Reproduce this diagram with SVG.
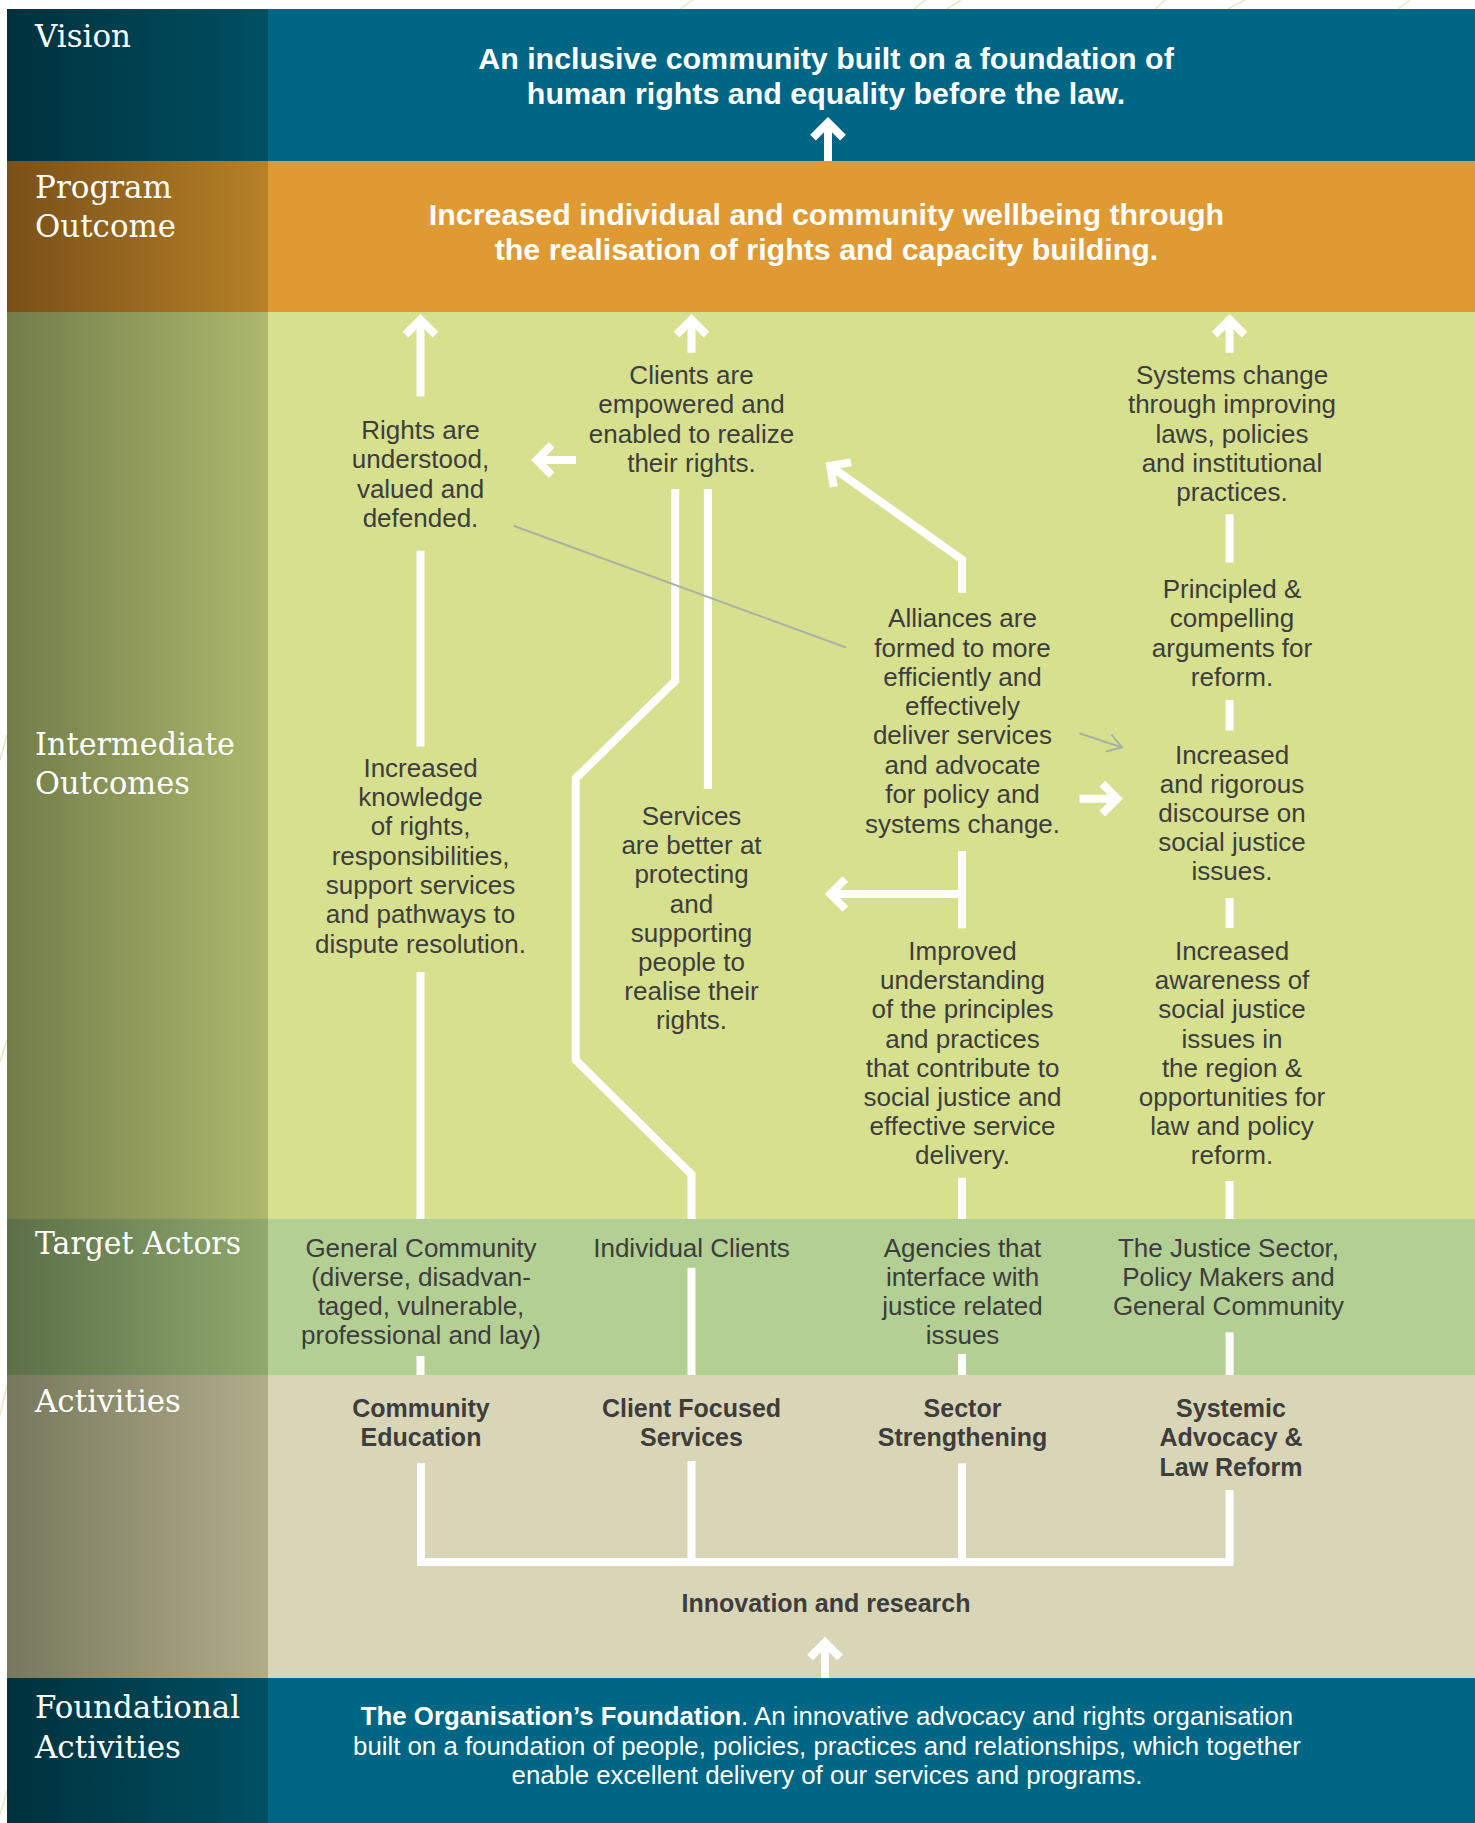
<svg xmlns="http://www.w3.org/2000/svg" width="1475" height="1823" viewBox="0 0 1475 1823">
<style>
.lbl{font-family:"DejaVu Serif","Liberation Serif",serif;font-size:31px;fill:#fff}
.hd{font-family:"Liberation Sans",Arial,sans-serif;font-weight:bold;font-size:30.4px;fill:#fff;text-anchor:middle}
.tx{font-family:"Liberation Sans",Arial,sans-serif;font-size:26px;fill:#3d3d3d;text-anchor:middle}
.bd{font-family:"Liberation Sans",Arial,sans-serif;font-weight:bold;font-size:25px;fill:#3d3d3d;text-anchor:middle}
.ft{font-family:"Liberation Sans",Arial,sans-serif;font-size:25.8px;fill:#fff;text-anchor:middle}
.ln{stroke:#fff;stroke-width:8;fill:none;stroke-linejoin:miter;stroke-miterlimit:10}
.ar{marker-end:url(#ah)}
.gl{stroke:#a9b2a2;stroke-width:2;fill:none}
.deco{stroke:#e8e8c4;stroke-width:1.5;fill:none}
</style>
<defs>
<linearGradient id="gV" x1="0" x2="1" y1="0" y2="0"><stop offset="0" stop-color="#00313d"/><stop offset="1" stop-color="#005063"/></linearGradient>
<linearGradient id="gP" x1="0" x2="1" y1="0" y2="0"><stop offset="0" stop-color="#7a5019"/><stop offset="1" stop-color="#b68127"/></linearGradient>
<linearGradient id="gI" x1="0" x2="1" y1="0" y2="0"><stop offset="0" stop-color="#727d4a"/><stop offset="1" stop-color="#adb86d"/></linearGradient>
<linearGradient id="gT" x1="0" x2="1" y1="0" y2="0"><stop offset="0" stop-color="#5c6f48"/><stop offset="1" stop-color="#90a96d"/></linearGradient>
<linearGradient id="gA" x1="0" x2="1" y1="0" y2="0"><stop offset="0" stop-color="#77785c"/><stop offset="1" stop-color="#b1ad8b"/></linearGradient>
<marker id="ah" markerUnits="userSpaceOnUse" orient="auto" markerWidth="60" markerHeight="60" viewBox="-30 -30 60 60" refX="0" refY="0" overflow="visible"><path d="M-15 -15 L0 0 L-15 15" fill="none" stroke="#fff" stroke-width="8" stroke-miterlimit="10"/></marker>
<marker id="ahg" markerUnits="userSpaceOnUse" orient="auto" markerWidth="40" markerHeight="40" viewBox="-20 -20 40 40" refX="0" refY="0" overflow="visible"><path d="M-14 -9 L0 0 L-14 9" fill="none" stroke="#a9b2a2" stroke-width="2"/></marker>
</defs>
<rect width="1475" height="1823" fill="#fff"/>
<g id="decor">
<line class="deco" x1="680" y1="9" x2="693" y2="0"/>
<line class="deco" x1="914" y1="9" x2="925" y2="0"/>
<line class="deco" x1="947" y1="9" x2="961" y2="0"/>
<line class="deco" x1="1155" y1="9" x2="1165" y2="0"/>
<line class="deco" x1="1228" y1="9" x2="1245" y2="0"/>
<line class="deco" x1="1398" y1="9" x2="1410" y2="0"/>
<line class="deco" x1="0" y1="760" x2="7" y2="735"/>
<line class="deco" x1="0" y1="1062" x2="7" y2="1040"/>
<line class="deco" x1="0" y1="1415" x2="7" y2="1385"/>
<line class="deco" x1="0" y1="1815" x2="7" y2="1790"/>
</g>
<g id="bands">
<rect x="7" y="9" width="261" height="152" fill="url(#gV)"/>
<rect x="268" y="9" width="1207" height="152" fill="#006685"/>
<rect x="7" y="161" width="261" height="151" fill="url(#gP)"/>
<rect x="268" y="161" width="1207" height="151" fill="#df9a33"/>
<rect x="7" y="312" width="261" height="907" fill="url(#gI)"/>
<rect x="268" y="312" width="1207" height="907" fill="#d6e08f"/>
<rect x="7" y="1219" width="261" height="156" fill="url(#gT)"/>
<rect x="268" y="1219" width="1207" height="156" fill="#b3cf93"/>
<rect x="7" y="1375" width="261" height="303" fill="url(#gA)"/>
<rect x="268" y="1375" width="1207" height="303" fill="#d9d6b8"/>
<rect x="7" y="1678" width="261" height="145" fill="url(#gV)"/>
<rect x="268" y="1678" width="1207" height="145" fill="#006685"/>
</g>
<g id="row-labels">
<text class="lbl" x="35" y="47" textLength="96" lengthAdjust="spacingAndGlyphs">Vision</text>
<text class="lbl" x="35" y="198" textLength="137" lengthAdjust="spacingAndGlyphs">Program</text>
<text class="lbl" x="35" y="237" textLength="141" lengthAdjust="spacingAndGlyphs">Outcome</text>
<text class="lbl" x="35" y="755" textLength="200" lengthAdjust="spacingAndGlyphs">Intermediate</text>
<text class="lbl" x="35" y="794" textLength="155" lengthAdjust="spacingAndGlyphs">Outcomes</text>
<text class="lbl" x="35" y="1254" textLength="206" lengthAdjust="spacingAndGlyphs">Target Actors</text>
<text class="lbl" x="35" y="1412" textLength="146" lengthAdjust="spacingAndGlyphs">Activities</text>
<text class="lbl" x="35" y="1718" textLength="205" lengthAdjust="spacingAndGlyphs">Foundational</text>
<text class="lbl" x="35" y="1758" textLength="146" lengthAdjust="spacingAndGlyphs">Activities</text>
</g>
<g id="connectors">
<line class="ln ar" x1="828" y1="161" x2="828" y2="122.7"/>
<line class="ln ar" x1="420.5" y1="396.4" x2="420.5" y2="319.7"/>
<line class="ln ar" x1="691.5" y1="352.8" x2="691.5" y2="319.7"/>
<line class="ln ar" x1="1229.6" y1="352.8" x2="1229.6" y2="319.7"/>
<line class="ln ar" x1="576" y1="460" x2="536.7" y2="460"/>
<line class="ln" x1="420.5" y1="550.7" x2="420.5" y2="746.6"/>
<line class="ln" x1="420.5" y1="972" x2="420.5" y2="1219"/>
<line class="ln" x1="420.5" y1="1356" x2="420.5" y2="1375"/>
<polyline class="ln" points="675.3,489 675.3,680.8 575.7,778.4 575.7,1060 691.5,1174.3 691.5,1219"/>
<line class="ln" x1="707.9" y1="489" x2="707.9" y2="789"/>
<line class="ln" x1="691.5" y1="1267.7" x2="691.5" y2="1375"/>
<polyline class="ln ar" points="962,592.8 962,559.5 830.2,465.9"/>
<line class="ln" x1="962" y1="851" x2="962" y2="928.3"/>
<line class="ln ar" x1="962" y1="894" x2="830.4" y2="894"/>
<line class="ln ar" x1="1079.5" y1="798.7" x2="1117.3" y2="798.7"/>
<line class="ln" x1="962" y1="1177.7" x2="962" y2="1219"/>
<line class="ln" x1="962" y1="1354" x2="962" y2="1375"/>
<line class="ln" x1="1229.6" y1="514.3" x2="1229.6" y2="562.5"/>
<line class="ln" x1="1229.6" y1="700" x2="1229.6" y2="730.5"/>
<line class="ln" x1="1229.6" y1="898" x2="1229.6" y2="928"/>
<line class="ln" x1="1229.6" y1="1181" x2="1229.6" y2="1219"/>
<line class="ln" x1="1229.6" y1="1332.3" x2="1229.6" y2="1375"/>
<polyline class="ln" points="421,1463.3 421,1562 1229.6,1562 1229.6,1490"/>
<line class="ln" x1="691.5" y1="1461" x2="691.5" y2="1562"/>
<line class="ln" x1="962" y1="1463.3" x2="962" y2="1562"/>
<line class="ln ar" x1="825" y1="1678" x2="825" y2="1642.4"/>
<line class="gl" x1="513.5" y1="525.8" x2="846" y2="647.5"/>
<line class="gl" x1="1079.5" y1="733.2" x2="1122" y2="747.5" marker-end="url(#ahg)"/>
</g>
<g id="vision">
<text class="hd"><tspan x="826" y="69">An inclusive community built on a foundation of</tspan><tspan x="826" y="104">human rights and equality before the law.</tspan></text>
</g>
<g id="program-outcome">
<text class="hd"><tspan x="826.5" y="224.5">Increased individual and community wellbeing through</tspan><tspan x="826.5" y="259.5">the realisation of rights and capacity building.</tspan></text>
</g>
<g id="rights-understood">
<text class="tx"><tspan x="420.5" y="438.5">Rights are</tspan><tspan x="420.5" y="468">understood,</tspan><tspan x="420.5" y="497.5">valued and</tspan><tspan x="420.5" y="527">defended.</tspan></text>
</g>
<g id="clients-empowered">
<text class="tx"><tspan x="691.5" y="383.5">Clients are</tspan><tspan x="691.5" y="413">empowered and</tspan><tspan x="691.5" y="442.5">enabled to realize</tspan><tspan x="691.5" y="472">their rights.</tspan></text>
</g>
<g id="systems-change">
<text class="tx"><tspan x="1232" y="383.5">Systems change</tspan><tspan x="1232" y="413">through improving</tspan><tspan x="1232" y="442.5">laws, policies</tspan><tspan x="1232" y="472">and institutional</tspan><tspan x="1232" y="501">practices.</tspan></text>
</g>
<g id="principled-arguments">
<text class="tx"><tspan x="1232" y="597.7">Principled &amp;</tspan><tspan x="1232" y="627">compelling</tspan><tspan x="1232" y="656.5">arguments for</tspan><tspan x="1232" y="686">reform.</tspan></text>
</g>
<g id="alliances">
<text class="tx"><tspan x="962.5" y="627.2">Alliances are</tspan><tspan x="962.5" y="656.5">formed to more</tspan><tspan x="962.5" y="685.8">efficiently and</tspan><tspan x="962.5" y="715.1">effectively</tspan><tspan x="962.5" y="744.4">deliver services</tspan><tspan x="962.5" y="773.7">and advocate</tspan><tspan x="962.5" y="803">for policy and</tspan><tspan x="962.5" y="832.5">systems change.</tspan></text>
</g>
<g id="rigorous-discourse">
<text class="tx"><tspan x="1232" y="763.8">Increased</tspan><tspan x="1232" y="793">and rigorous</tspan><tspan x="1232" y="822">discourse on</tspan><tspan x="1232" y="851">social justice</tspan><tspan x="1232" y="880">issues.</tspan></text>
</g>
<g id="increased-knowledge">
<text class="tx"><tspan x="420.5" y="776.8">Increased</tspan><tspan x="420.5" y="806">knowledge</tspan><tspan x="420.5" y="835.3">of rights,</tspan><tspan x="420.5" y="864.6">responsibilities,</tspan><tspan x="420.5" y="894">support services</tspan><tspan x="420.5" y="923.3">and pathways to</tspan><tspan x="420.5" y="952.6">dispute resolution.</tspan></text>
</g>
<g id="services-better">
<text class="tx"><tspan x="691.5" y="825">Services</tspan><tspan x="691.5" y="854.2">are better at</tspan><tspan x="691.5" y="883.4">protecting</tspan><tspan x="691.5" y="912.6">and</tspan><tspan x="691.5" y="941.8">supporting</tspan><tspan x="691.5" y="971">people to</tspan><tspan x="691.5" y="1000.2">realise their</tspan><tspan x="691.5" y="1029.4">rights.</tspan></text>
</g>
<g id="improved-understanding">
<text class="tx"><tspan x="962.5" y="960">Improved</tspan><tspan x="962.5" y="989.2">understanding</tspan><tspan x="962.5" y="1018.4">of the principles</tspan><tspan x="962.5" y="1047.6">and practices</tspan><tspan x="962.5" y="1076.8">that contribute to</tspan><tspan x="962.5" y="1106">social justice and</tspan><tspan x="962.5" y="1135.2">effective service</tspan><tspan x="962.5" y="1164.4">delivery.</tspan></text>
</g>
<g id="increased-awareness">
<text class="tx"><tspan x="1232" y="960">Increased</tspan><tspan x="1232" y="989.2">awareness of</tspan><tspan x="1232" y="1018.4">social justice</tspan><tspan x="1232" y="1047.6">issues in</tspan><tspan x="1232" y="1076.8">the region &amp;</tspan><tspan x="1232" y="1106">opportunities for</tspan><tspan x="1232" y="1135.2">law and policy</tspan><tspan x="1232" y="1164.4">reform.</tspan></text>
</g>
<g id="actor-general-community">
<text class="tx"><tspan x="421" y="1256.7">General Community</tspan><tspan x="421" y="1286">(diverse, disadvan-</tspan><tspan x="421" y="1315">taged, vulnerable,</tspan><tspan x="421" y="1344.3">professional and lay)</tspan></text>
</g>
<g id="actor-individual-clients">
<text class="tx"><tspan x="691.5" y="1256.7">Individual Clients</tspan></text>
</g>
<g id="actor-agencies">
<text class="tx"><tspan x="962.5" y="1256.7">Agencies that</tspan><tspan x="962.5" y="1286">interface with</tspan><tspan x="962.5" y="1315">justice related</tspan><tspan x="962.5" y="1344">issues</tspan></text>
</g>
<g id="actor-justice-sector">
<text class="tx"><tspan x="1228.5" y="1256.7">The Justice Sector,</tspan><tspan x="1228.5" y="1286">Policy Makers and</tspan><tspan x="1228.5" y="1315">General Community</tspan></text>
</g>
<g id="activity-community-education">
<text class="bd"><tspan x="421" y="1416.7">Community</tspan><tspan x="421" y="1445.7">Education</tspan></text>
</g>
<g id="activity-client-services">
<text class="bd"><tspan x="691.5" y="1416.7">Client Focused</tspan><tspan x="691.5" y="1445.7">Services</tspan></text>
</g>
<g id="activity-sector-strengthening">
<text class="bd"><tspan x="962.5" y="1416.7">Sector</tspan><tspan x="962.5" y="1445.7">Strengthening</tspan></text>
</g>
<g id="activity-systemic-advocacy">
<text class="bd"><tspan x="1231" y="1416.7">Systemic</tspan><tspan x="1231" y="1445.7">Advocacy &amp;</tspan><tspan x="1231" y="1475.7">Law Reform</tspan></text>
</g>
<g id="innovation-research">
<text class="bd" x="826" y="1611.7">Innovation and research</text>
</g>
<g id="foundation">
<text class="ft"><tspan x="827" y="1725"><tspan font-weight="bold">The Organisation’s Foundation</tspan>. An innovative advocacy and rights organisation</tspan><tspan x="827" y="1755">built on a foundation of people, policies, practices and relationships, which together</tspan><tspan x="827" y="1784">enable excellent delivery of our services and programs.</tspan></text>
</g>
</svg>
